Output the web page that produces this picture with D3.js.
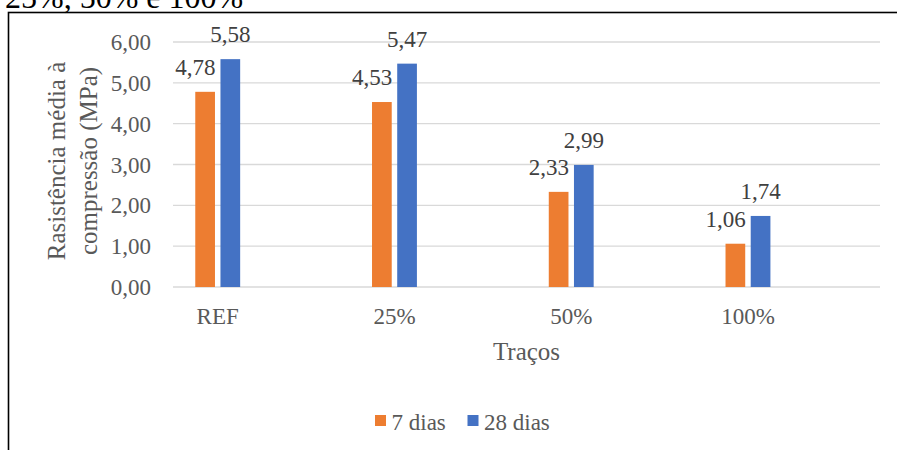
<!DOCTYPE html>
<html>
<head>
<meta charset="utf-8">
<script src="https://cdn.jsdelivr.net/npm/d3@7"></script>
<style>
  html, body { margin: 0; padding: 0; background: #fff; }
  svg { display: block; }
  svg text, svg tspan { font-family: "Liberation Serif", serif !important; }
</style>
</head>
<body>
<svg id="chart" width="897" height="450" font-family="Liberation Serif, serif"></svg>
<script>
// Resistência média à compressão por traço
const categories = ["REF", "25%", "50%", "100%"];
const seriesNames = ["7 dias", "28 dias"];
const dias7 = [4.78, 4.53, 2.33, 1.06];
const dias28 = [5.58, 5.47, 2.99, 1.74];
const yTicks = [0, 1, 2, 3, 4, 5, 6];
const colors = ["#ED7D31", "#4472C4"];

const seriesValues = [dias7, dias28];
const fmt = v => d3.format(".2f")(v).replace(".", ",");

const svg = d3.select("#chart");
const textColor = "#595959";
const serif = "Liberation Serif, serif";

// Caption line above the chart frame (partly cut by the page top)
svg.append("text")
  .attr("x", 5).attr("y", 8)
  .attr("font-family", serif)
  .attr("font-size", 32).attr("fill", "#000")
  .text("25%, 50% e 100%");

// Chart frame
svg.append("rect")
  .attr("x", 8.5).attr("y", 12.5)
  .attr("width", 1000).attr("height", 600)
  .attr("fill", "none").attr("stroke", "#000").attr("stroke-width", 1.6);

const plot = { left: 173, right: 880, top: 42, bottom: 287 };

const y = d3.scaleLinear().domain([0, 6]).range([plot.bottom, plot.top]);
const x0 = d3.scaleBand().domain(categories).range([plot.left, plot.right]);
const bw = x0.bandwidth();
const x1 = d3.scaleBand().domain(seriesNames)
  .range([0.126 * bw, 0.38 * bw]).paddingInner(0.218).paddingOuter(0);

// Gridlines
svg.append("g").selectAll("line").data(yTicks).join("line")
  .attr("x1", plot.left).attr("x2", plot.right)
  .attr("y1", d => y(d)).attr("y2", d => y(d))
  .attr("stroke", "#d9d9d9").attr("stroke-width", 1.3);

// Y tick labels
svg.append("g").selectAll("text").data(yTicks).join("text")
  .attr("x", 151).attr("y", d => y(d) + 8)
  .attr("font-family", serif)
  .attr("text-anchor", "end").attr("font-size", 23).attr("fill", textColor)
  .text(d => fmt(d));

// Bars
const rows = categories.map((c, i) => ({ cat: c, vals: seriesValues.map(s => s[i]) }));
const groups = svg.append("g").selectAll("g").data(rows).join("g")
  .attr("transform", d => `translate(${x0(d.cat)},0)`);

groups.selectAll("rect")
  .data(d => d.vals.map((v, k) => ({ name: seriesNames[k], v, k })))
  .join("rect")
  .attr("x", d => x1(d.name)).attr("width", x1.bandwidth())
  .attr("y", d => y(d.v)).attr("height", d => y(0) - y(d.v))
  .attr("fill", d => colors[d.k]);

// Value labels
groups.selectAll("text")
  .data(d => d.vals.map((v, k) => ({ name: seriesNames[k], v, k })))
  .join("text")
  .attr("x", d => d.k === 0 ? x1(d.name) + x1.bandwidth() + 0.5 : x1(d.name) + x1.bandwidth() / 2)
  .attr("y", d => y(d.v) - 17)
  .attr("font-family", serif)
  .attr("text-anchor", d => d.k === 0 ? "end" : "middle")
  .attr("font-size", 23).attr("fill", "#404040")
  .text(d => fmt(d.v));

// X tick labels
svg.append("g").selectAll("text").data(categories).join("text")
  .attr("x", d => x0(d) + x1("7 dias") + x1.step() - (x1.step() - x1.bandwidth()) / 2)
  .attr("y", 323.5)
  .attr("font-family", serif)
  .attr("text-anchor", "middle").attr("font-size", 23).attr("fill", textColor)
  .text(d => d);

// Axis titles
svg.append("text")
  .attr("x", (plot.left + plot.right) / 2).attr("y", 360)
  .attr("font-family", serif)
  .attr("text-anchor", "middle").attr("font-size", 25).attr("fill", textColor)
  .text("Traços");

const yTitle = svg.append("text")
  .attr("transform", "translate(0,161) rotate(-90)")
  .attr("font-family", serif)
  .attr("text-anchor", "middle").attr("font-size", 25).attr("fill", textColor);
yTitle.append("tspan").attr("x", 0).attr("y", 65).text("Rasistência média à");
yTitle.append("tspan").attr("x", 0).attr("y", 97).text("compressão (MPa)");

// Legend
const legendItems = [
  { name: seriesNames[0], color: colors[0], sx: 375, tx: 391.5 },
  { name: seriesNames[1], color: colors[1], sx: 467.5, tx: 484 }
];
const lg = svg.append("g");
lg.selectAll("rect").data(legendItems).join("rect")
  .attr("x", d => d.sx).attr("y", 415).attr("width", 11).attr("height", 11)
  .attr("fill", d => d.color);
lg.selectAll("text").data(legendItems).join("text")
  .attr("x", d => d.tx).attr("y", 430)
  .attr("font-family", serif)
  .attr("font-size", 23).attr("fill", textColor)
  .text(d => d.name);
</script>
</body>
</html>
